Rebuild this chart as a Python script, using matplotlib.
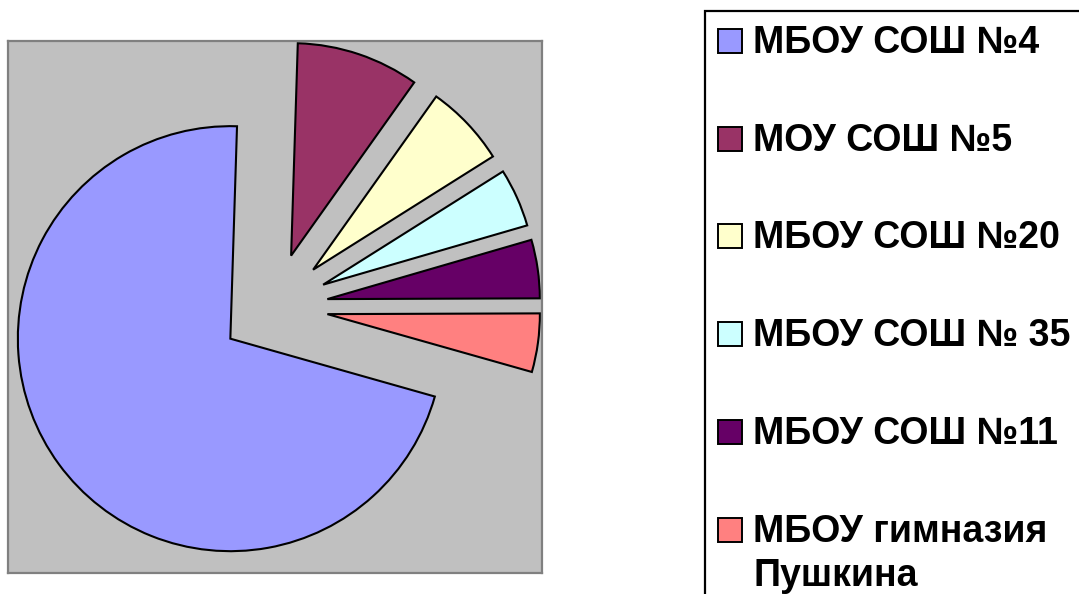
import matplotlib
matplotlib.use('Agg')
import matplotlib.pyplot as plt
from matplotlib.patches import Rectangle

schools = ['МБОУ СОШ №4', 'МОУ СОШ №5', 'МБОУ СОШ №20', 'МБОУ СОШ № 35',
           'МБОУ СОШ №11', 'МБОУ гимназия\nПушкина']
counts = [160, 21, 14, 10, 10, 10]
colors = ['#9999FF', '#993366', '#FFFFCC', '#CCFFFF', '#660066', '#FF8080']

W, H = 1079, 594
fig = plt.figure(figsize=(W / 100, H / 100), dpi=100)

# plot area (pixel box 8..541.7 x 40.7..572.7)
ax = fig.add_axes([8 / W, (H - 572.7) / H, 533.7 / W, 532 / H])
ax.set_facecolor('#C0C0C0')
for s in ax.spines.values():
    s.set_color('#808080')
    s.set_linewidth(1.6)

ax.pie(counts, colors=colors, explode=[0.254] * len(counts), startangle=-15.8,
       counterclock=False, radius=1,
       wedgeprops=dict(edgecolor='black', linewidth=1.5))
ax.set_aspect('auto')
ax.set_xlim(-1.2513, 1.2602)
ax.set_ylim(-1.2513, 1.2522)
ax.set_xticks([])
ax.set_yticks([])
ax.set_frame_on(True)

# legend box, runs off the right and bottom edges
fig.patches.append(Rectangle((705 / W, -0.1), 500 / W, 1.1 - 11 / H,
                             transform=fig.transFigure, facecolor='white',
                             edgecolor='black', linewidth=1.6, zorder=1))

fp = dict(family=['Liberation Sans', 'DejaVu Sans'], weight='bold', size=27)
for i, (name, c) in enumerate(zip(schools, colors)):
    base = 53 + 97.7 * i
    fig.patches.append(Rectangle((718 / W, 1 - base / H), 24 / W, 24 / H,
                                 transform=fig.transFigure, facecolor=c,
                                 edgecolor='black', linewidth=1.4, zorder=2))
    for j, line in enumerate(name.split('\n')):
        fig.text(753 / W, 1 - (base + 45 * j) / H, line, ha='left',
                 va='baseline', zorder=3, **fp)

plt.savefig('out.png', dpi=100)
